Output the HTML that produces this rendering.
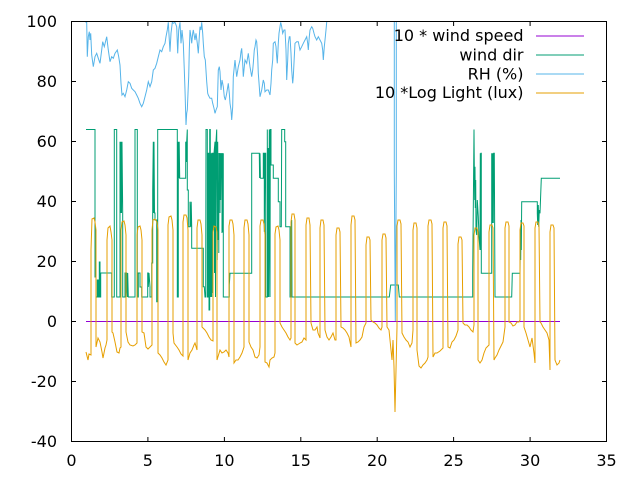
<!DOCTYPE html>
<html>
<head>
<meta charset="utf-8">
<style>
html,body{margin:0;padding:0;background:#fff;}
svg{display:block;}
text{font-family:"DejaVu Sans","Liberation Sans",sans-serif;font-size:16px;fill:#000;}
</style>
</head>
<body>
<svg width="640" height="480" viewBox="0 0 640 480" xmlns="http://www.w3.org/2000/svg">
<defs>
<clipPath id="pc"><rect x="71.5" y="21.5" width="535" height="420"/></clipPath>
</defs>
<rect width="640" height="480" fill="#fff"/>

<g clip-path="url(#pc)" fill="none" stroke-width="1" stroke-linejoin="miter">
<!-- wind speed -->
<polyline stroke="#9400d3" points="86,321.5 560,321.5"/>
<!-- wind dir -->
<polyline stroke="#009e73" points="86,129.5 95,129.5 95,277 96,277 96,297 97.3,297 97.3,280 98.3,280 98.3,297 99.3,297 99.3,262 100,262 100,297 100.7,297 100.7,273 111.7,273 111.7,297 114.3,297 114.3,129.5 116.7,129.5 116.7,297 120,297 120,141.7 120.5,213 121,141.7 121.5,213 122,141.7 122.7,213 122.7,297 125,297 125,273 126.7,273 126.7,287 127.3,297 127.7,273 128.3,297 135,297 135,129.5 137.3,129.5 137.3,297 138.3,297 138.3,273 140,273 140,287 141.7,287 141.7,297 147.7,297 147.7,273 148.3,273 148.3,287 149,273 150,287 150,297 151.7,297 151.7,263 152.7,263 152.7,190 153.3,141.7 153.7,213 154,141.7 154.5,213 155,213 155,220 156.7,220 156.7,301.7 157.7,301.7 157.7,129.5 177.3,129.5 177.3,297 178.3,297 178.3,141.7 178.8,178 179.2,141.7 179.7,178.3 185.7,178.3 185.7,141.7 186.3,162 186.7,141.7 187.3,129.5 187.3,190 188.3,190 188.3,226.7 190,226.7 190,201.7 190.7,226.7 191.2,201.7 191.7,226.7 191.7,248.3 203.3,248.3 203.3,286.7 204.3,286.7 205,297 205.7,297 206,129.5 207.3,129.5 207.3,297 208.3,297 208.3,153.3 209,153.3 209,310 209.7,310 209.7,129.5 210.3,129.5 210.3,297 210.7,153.3 211,297 211.3,153.3 211.7,297 212,153.3 213,153.3 213,230 213.3,153.3 213.7,230 214,153.3 215,141.7 215.5,297 216,141.7 216.7,129.5 217.2,260 217.7,141.7 218.3,240 219.3,153.3 219.7,200 220.3,153.3 220.7,200 221.3,153.3 221.7,178 222.3,153.3 222.7,232 223.3,153.3 223.3,297 229.3,297 229.3,285 230,273.3 251.7,273.3 251.7,153.3 259.3,153.3 259.6,178 260,153.3 260.4,178 260.7,178.3 263.3,178.3 263.3,153.3 264.3,153.3 264.3,231.7 265,153.3 265.7,153.3 265.7,297 267.3,297 267.3,129.5 267.7,297 268.3,148 268.7,297 269.3,129.5 270,297 270.3,129.5 271,129.5 271,165 273.3,165 273.3,178.3 278.3,178.3 278.3,201.7 280,201.7 280,226.7 281.3,226.7 281.7,129.5 284.7,129.5 284.7,141.7 285.7,141.7 285.7,226.7 290,226.7 290,297 291.7,297 291.7,220 292,297 389.3,297 390.7,285 398.3,285 399.3,297 472.7,297 472.7,273.3 473.3,208.3 474,129.5 474.3,166.7 474.7,200 475,166.7 475.3,208 475.7,180 476,230 476.7,235 477.3,200 478.3,216.7 479,236.7 480,250 480.3,153.3 480.7,250 481,153.3 481.3,153.3 481.3,273.3 491.7,273.3 491.7,153.3 492.3,223 492.7,153.3 493.3,223 493.7,153.3 494.3,153.3 495,297 511.7,297 512.3,273.3 520,273.3 520.3,240 520.7,260 521,220 521.3,250 521.7,201.7 537.3,201.7 537.3,213.3 537.7,225 538.3,205 538.7,226.7 539.3,210 540,213.3 541.3,178.3 560,178.3"/>
<path stroke="#009e73" d="M212.5,153v140M214.5,153v120M218.8,153v100M220,153v60M222,153v80M121,142v70M179,142v36"/>
<!-- RH -->
<polyline stroke="#56b4e9" points="86,10 86,22.3 86.7,22.3 87.3,56.7 88.3,36.7 89.3,31.7 90,40 90.7,33.3 91.7,55 93.3,66.7 95,56.7 96.7,53.3 98.3,58.3 100,63.3 101.7,50 102.7,41.7 104.3,46.7 106.7,36.7 108.3,50 110,61.7 111.7,56.7 113.3,58.3 115,53.3 117.3,50 118.7,56.7 120,65 121,83.3 122,95 123.3,93.3 125,96.7 126.7,90 128.3,81.7 130,83.3 131.7,88.3 133.3,90 135,91.7 136.7,95 138.3,98.3 140,103.3 141.7,106.7 143.3,103.3 145,96.7 146.7,90 148.3,81.7 150,86.7 151.7,81.7 153.3,70 155,68.3 156.7,63.3 158.3,56.7 160,50 161.7,51.7 163.3,46.7 165,43.3 166,36.7 167.3,30 168.3,22.3 169.3,40 170,51.7 171,33.3 172.3,22.3 173.3,23.3 175,22.3 176.7,26.7 177.7,53.3 178.7,30 180,22.3 181,43.3 182,30 183.3,43.3 184.3,70 185,90 186,125 186.7,113.3 187.3,110 188,93.3 188.7,76.7 189.3,50 190,30 191,36.7 191.7,43.3 192.7,33.3 193.3,30 195,40 196,33.3 197.3,43.3 198.3,53.3 199.3,36.7 200,26.7 201,30 201.7,22.3 202.7,33.3 203.3,43.3 204.3,56.7 205.3,60 206.7,81.7 207.7,93.3 208.3,95 210,98.3 211.7,98.3 212.7,103.3 214,108.3 215,113.3 216,110 217.3,106.7 218.3,70 219.3,66.7 220,71.7 221,90 222,80 223.3,86.7 224.3,96.7 225.3,100 226.7,93.3 228.3,83.3 229.3,93.3 230,103.3 231,110 231.7,120 232.7,106.7 233.3,76.7 234.3,66.7 235,60 236,70 236.7,76.7 238.3,66.7 240,60 241,51.7 241.7,48.3 242.7,63.3 243.3,76.7 244.3,66.7 245,60 246.7,63.3 248.3,53.3 250,66.7 251.7,76.7 252.7,70 253.3,63.3 254.3,50 255,46.7 256,40 256.7,41.7 257.7,56.7 258.3,73.3 259.3,86.7 260,96.7 261.7,90 263.3,80 264.3,83.3 265,91.7 266.7,90 268.3,90 270,95 271,83.3 271.7,70 272.7,60 273.3,43.3 275,41.7 276,46.7 276.7,56.7 277.3,63.3 278.3,43.3 279,33.3 280,26.7 280.7,22.3 281.7,26.7 282.7,33.3 284,30 285,30 286,50 286.7,80 287.7,60 288.3,43.3 289.3,36.7 290,36.7 291,53.3 291.7,70 292.7,83.3 293.3,76.7 294.3,56.7 295,43.3 296.7,41.7 298.3,41.7 299.3,46.7 300,50 301.7,46.7 303.3,43.3 305,40 306.7,36.7 307.7,43.3 308.3,50 309.3,36.7 310,30 311.7,26.7 312.7,28.3 314,33.3 315,36.7 316.7,40 318.3,36.7 320,40 321.7,43.3 322.7,50 323.3,60 324.3,46.7 325,40 326,30 326.7,22.3 327.5,10"/>
<polyline stroke="#56b4e9" points="394.3,10 394.3,172 395.3,321 396.3,172 396.3,10"/>
<!-- light -->
<polyline stroke="#e69f00" points="86,352 87,356 88,360 89,354 91,355 91,250 92,219 94,218 95,222 96,230 96,347 98,338 100,342 102,352 103,358 105,348 106,345 107,340 107,240 108,228 110,226 111,232 112,240 112,332 113,333 115,342 117,352 119,353 120,348 121,347 121,230 122,222 124,221 125,225 126,235 126,332 128,342 130,345 133,346 135,345 137,343 137,235 138,227 140,226 141,230 142,240 142,332 144,333 146,347 148,349 150,347 152,345 152,230 153,220 155,219 157,222 158,230 158,353 160,355 162,358 164,362 166,365 168,360 168,225 169,217 171,216 172,220 173,230 173,333 174,343 177,347 179,350 181,354 183,356 183,222 184,215 186,215 187,218 188,230 188,360 190,353 192,350 194,345 195,343 197,350 197,228 198,220 200,220 201,224 202,235 202,327 205,330 207,333 209,337 211,340 213,341 213,232 214,226 216,227 217,232 217,360 220,350 222,353 224,352 226,350 228,353 229,357 229,226 230,220 232,220 233,224 234,235 234,363 236,360 238,360 240,357 242,353 244,347 244,228 245,220 247,220 248,224 249,235 249,342 251,347 253,350 255,357 257,358 259,355 260,347 260,226 261,220 263,220 264,224 265,235 265,362 267,363 269,367 270,360 272,358 274,357 275,353 275,234 276,227 278,226 279,230 280,240 280,323 282,327 284,330 286,333 288,337 290,340 291,338 291,222 292,214 294,214 295,220 295,343 297,345 300,343 302,342 304,338 306,340 306,225 307,218 309,218 310,225 311,323 313,330 315,330 317,327 318,333 320,338 320,228 321,220 323,220 324,225 325,330 327,337 329,340 331,337 333,333 335,340 336,340 336,235 337,228 339,228 340,232 341,327 343,328 345,330 347,333 349,337 351,347 351,225 352,216 354,216 355,220 356,343 358,342 360,340 362,337 364,327 366,323 366,245 367,237 369,237 370,240 371,320 373,322 375,323 377,325 379,328 381,330 382,327 382,240 383,234 385,234 386,238 387,327 389,330 391,350 392,360 393,340 394,367 395,412 396,370 397,327 397,226 398,220 400,220 401,224 402,333 404,337 406,340 408,342 410,347 412,343 413,330 413,230 414,223 416,223 417,228 417,350 419,366 421,368 423,365 425,363 427,360 428,357 428,226 429,220 431,220 432,224 433,357 435,353 437,353 440,351 442,349 443,348 443,228 444,222 446,222 447,226 448,347 450,348 452,342 454,340 456,336 458,330 458,244 459,237 461,237 462,240 463,323 465,325 467,325 469,327 471,330 473,332 474,325 474,235 475,228 477,228 478,232 478,360 480,363 482,360 484,353 486,348 488,346 489,345 489,232 490,225 492,225 493,228 494,360 495,358 497,355 499,350 501,346 503,342 505,327 505,228 506,222 508,222 509,226 509,322 511,323 513,326 515,325 517,322 519,322 520,320 520,230 521,223 523,223 524,226 524,327 526,333 528,340 530,347 532,338 534,353 535,363 535,228 536,222 538,222 539,226 540,322 541,323 543,327 545,330 547,333 549,340 550,370 550,232 551,225 553,225 554,228 555,360 557,365 559,363 560,360"/>
</g>

<!-- frame and ticks -->
<g stroke="#000" stroke-width="1" fill="none">
<rect x="71.5" y="21.5" width="535" height="420"/>
<path d="M71.5,21.5h4.5M71.5,81.5h4.5M71.5,141.5h4.5M71.5,201.5h4.5M71.5,261.5h4.5M71.5,321.5h4.5M71.5,381.5h4.5M71.5,441.5h4.5
M606.5,21.5h-4.5M606.5,81.5h-4.5M606.5,141.5h-4.5M606.5,201.5h-4.5M606.5,261.5h-4.5M606.5,321.5h-4.5M606.5,381.5h-4.5M606.5,441.5h-4.5
M71.5,441.5v-4.5M147.9,441.5v-4.5M224.4,441.5v-4.5M300.8,441.5v-4.5M377.2,441.5v-4.5M453.6,441.5v-4.5M530.1,441.5v-4.5M606.5,441.5v-4.5
M71.5,21.5v4.5M147.9,21.5v4.5M224.4,21.5v4.5M300.8,21.5v4.5M377.2,21.5v4.5M453.6,21.5v4.5M530.1,21.5v4.5M606.5,21.5v4.5"/>
</g>

<!-- y labels -->
<g text-anchor="end">
<text x="57" y="27">100</text>
<text x="57" y="87">80</text>
<text x="57" y="147">60</text>
<text x="57" y="207">40</text>
<text x="57" y="267">20</text>
<text x="57" y="327">0</text>
<text x="57" y="387">-20</text>
<text x="57" y="447">-40</text>
</g>
<!-- x labels -->
<g text-anchor="middle">
<text x="71.5" y="466">0</text>
<text x="147.9" y="466">5</text>
<text x="224.4" y="466">10</text>
<text x="300.8" y="466">15</text>
<text x="377.2" y="466">20</text>
<text x="453.6" y="466">25</text>
<text x="530.1" y="466">30</text>
<text x="606.5" y="466">35</text>
</g>

<!-- legend -->
<g text-anchor="end">
<text x="523.5" y="41">10 * wind speed</text>
<text x="523.5" y="60.3">wind dir</text>
<text x="523.5" y="79.3">RH (%)</text>
<text x="523.5" y="98">10 *Log Light (lux)</text>
</g>
<g stroke-width="1">
<line x1="536" y1="36" x2="584" y2="36" stroke="#9400d3"/>
<line x1="536" y1="55" x2="584" y2="55" stroke="#009e73"/>
<line x1="536" y1="74" x2="584" y2="74" stroke="#56b4e9"/>
<line x1="536" y1="93" x2="584" y2="93" stroke="#e69f00"/>
</g>
</svg>
</body>
</html>
